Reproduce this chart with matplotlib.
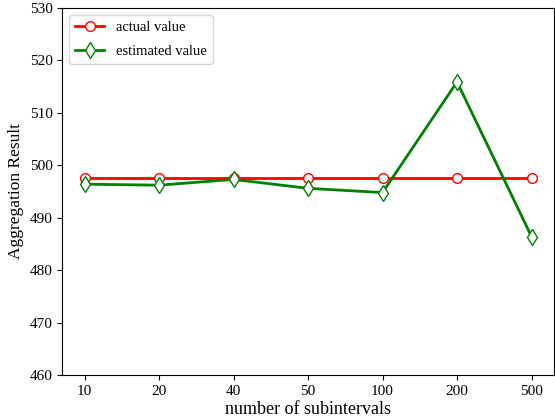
import numpy as np
import matplotlib.pyplot as plt

plt.rcParams['font.family'] = ['Liberation Serif', 'DejaVu Serif']

# data
subintervals = ['10', '20', '40', '50', '100', '200', '500']
actual = [497.6, 497.6, 497.6, 497.6, 497.6, 497.6, 497.6]
estimated = [496.4, 496.2, 497.3, 495.6, 494.8, 515.9, 486.4]

x = np.arange(len(subintervals))

fig = plt.figure(figsize=(5.55, 4.19), dpi=100)
ax = fig.add_subplot(111)
fig.subplots_adjust(left=0.112, right=0.998, top=0.981, bottom=0.105)

ax.plot(x, actual, color='red', linewidth=2, marker='o', markersize=7,
        markerfacecolor='white', markeredgecolor='red', label='actual value')
ax.plot(x, estimated, color='green', linewidth=2, marker='d', markersize=8,
        markerfacecolor='white', markeredgecolor='green', label='estimated value')

ax.set_xticks(x)
ax.set_xticklabels(subintervals)
ax.set_ylim(460, 530)
ax.tick_params(labelsize=11)
ax.set_xlabel('number of subintervals', fontsize=13, labelpad=2)
ax.set_ylabel('Aggregation Result', fontsize=12.5)
ax.legend(loc='upper left', fontsize=10.5, labelspacing=0.75)

plt.savefig('out.png', dpi=100)
